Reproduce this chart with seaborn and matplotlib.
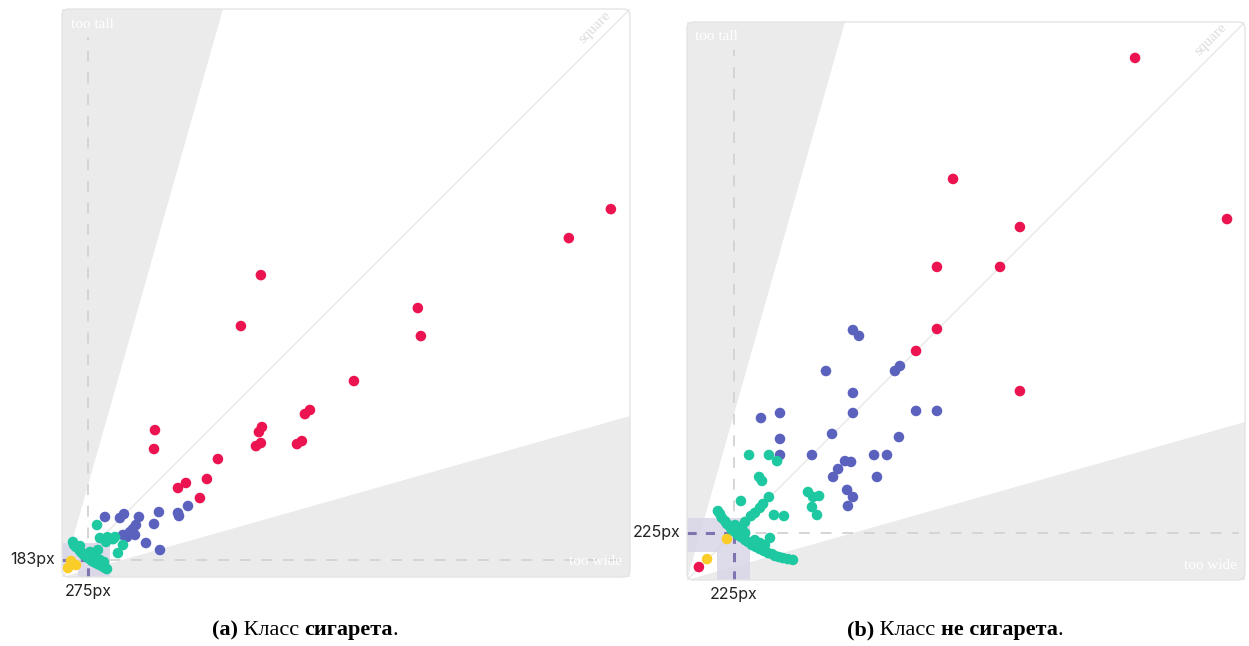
import numpy as np
import pandas as pd
import matplotlib
matplotlib.use("Agg")
import matplotlib.pyplot as plt
import seaborn as sns
from matplotlib.patches import Polygon, Rectangle, FancyBboxPatch

sns.set_theme(style="white")
plt.rcParams['font.family'] = ['Inter', 'DejaVu Sans']

# ---------------- data (image width / height in px) ----------------
# panel (a): class "сигарета"
a_large_w = [5798, 5354, 2101, 1890, 3759, 3791, 3084, 2619, 2566, 2112, 2080, 2101, 2049,
             2534, 2482, 982, 972, 1647, 1531, 1309, 1225, 1457]
a_large_h = [3886, 3580, 3189, 2651, 2841, 2545, 2070, 1764, 1721, 1584, 1531, 1415, 1383,
             1436, 1404, 1552, 1352, 1246, 1035, 993, 940, 834]
a_medium_w = [454, 612, 655, 813, 1024, 1225, 1236, 1331, 972, 781, 750, 644, 686, 771, 887, 1035, 718]
a_medium_h = [634, 623, 665, 634, 686, 676, 644, 750, 560, 549, 507, 444, 422, 444, 359, 285, 475]
a_small_w = [370, 401, 465, 560, 644, 591, 380, 480, 540,
             116, 148, 190, 232, 275, 317, 359, 401, 444, 475,
             127, 169, 211, 253, 296, 338, 380, 422, 454, 190, 296, 348, 401, 444]
a_small_h = [549, 412, 370, 422, 338, 253, 285, 420, 400,
             370, 317, 275, 232, 201, 169, 148, 127, 106, 84,
             338, 306, 253, 222, 190, 158, 137, 116, 95, 327, 264, 222, 180, 158]
a_tiny_w = [63, 95, 148]
a_tiny_h = [95, 169, 127]

# panel (b): class "не сигарета"
b_large_w = [2144, 2584, 1273, 1593, 1196, 1498, 1196, 1096, 1593, 57]
b_large_h = [2498, 1727, 1919, 1689, 1498, 1498, 1201, 1096, 904, 62]
b_medium_w = [794, 823, 665, 1019, 995, 794, 794, 1096, 1196, 1014, 354, 445, 694, 445, 445,
              598, 895, 957, 756, 785, 723, 699, 909, 766, 794, 770]
b_medium_h = [1196, 1168, 1000, 1024, 1000, 895, 799, 809, 809, 684, 775, 799, 699, 675, 598,
              598, 598, 598, 569, 565, 531, 493, 493, 431, 397, 354]
b_small_w = [297, 392, 431, 345, 359, 258, 392, 364, 349, 325, 306, 416, 464, 579, 603, 632,
             598, 622, 278, 263, 397, 349,
             148, 167, 191, 215, 244, 278, 311, 349, 388, 421, 459, 507,
             158, 182, 206, 230, 258, 292, 330, 368, 407, 440, 483,
             230, 278, 325, 373, 254]
b_small_h = [598, 598, 569, 493, 474, 378, 397, 364, 345, 321, 306, 311, 306, 421, 397, 402,
             349, 311, 278, 254, 201, 177,
             330, 297, 268, 239, 215, 191, 167, 148, 129, 115, 105, 96,
             316, 282, 254, 230, 206, 182, 158, 139, 124, 110, 100,
             263, 225, 191, 167, 249]
b_tiny_w = [96, 191]
b_tiny_h = [100, 196]

size_order = ["large", "medium", "small", "tiny"]
palette = {"large": "#EB1450", "medium": "#5A62BE", "small": "#1EC8A0", "tiny": "#FACD28"}


def frame(parts):
    rows = []
    for cat, (w, h) in parts.items():
        for wi, hi in zip(w, h):
            rows.append({"width": wi, "height": hi, "size": cat})
    return pd.DataFrame(rows)


df_a = frame({"large": (a_large_w, a_large_h), "medium": (a_medium_w, a_medium_h),
              "small": (a_small_w, a_small_h), "tiny": (a_tiny_w, a_tiny_h)})
df_b = frame({"large": (b_large_w, b_large_h), "medium": (b_medium_w, b_medium_h),
              "small": (b_small_w, b_small_h), "tiny": (b_tiny_w, b_tiny_h)})

a_max, b_max = 6000, 2670
a_med_w, a_med_h = 275, 183
b_med_w, b_med_h = 225, 225
# lavender "typical size" zones: (w1, w2, h1, h2)
a_zone = (170, 507, 110, 360)
b_zone = (144, 302, 134, 297)
ratio = 0.283

fig = plt.figure(figsize=(12.49, 6.46), dpi=100)
ax_a = fig.add_axes([62 / 1249, 1 - 577 / 646, 568 / 1249, 568 / 646])
ax_b = fig.add_axes([687 / 1249, 1 - 580 / 646, 558 / 1249, 558 / 646])

GRAY = "#EBEBEB"
LAV = "#D9D5E8"
PURPLE = "#7E74B0"
DASH = "#D2D2D2"


def panel(ax, df, vmax, mw, mh, zone):
    ax.set_xlim(0, vmax)
    ax.set_ylim(0, vmax)
    ax.set_facecolor("white")
    # wedges
    ax.add_patch(Polygon([[0, 0], [0, vmax], [ratio * vmax, vmax]], closed=True,
                         facecolor=GRAY, edgecolor="none", zorder=0))
    ax.add_patch(Polygon([[0, 0], [vmax, 0], [vmax, ratio * vmax]], closed=True,
                         facecolor=GRAY, edgecolor="none", zorder=0))
    # square diagonal
    ax.plot([0, vmax], [0, vmax], color="#E8E8E8", lw=1.0, zorder=1)
    # lavender zones
    w1, w2, h1, h2 = zone
    ax.add_patch(Rectangle((0, h1), w2, h2 - h1, facecolor=LAV, alpha=0.85,
                           edgecolor="none", zorder=1))
    ax.add_patch(Rectangle((w1, 0), w2 - w1, h1, facecolor=LAV, alpha=0.85,
                           edgecolor="none", zorder=1))
    # dashed median lines
    ax.plot([mw, mw], [mh, vmax * 0.95], color=DASH, lw=1.3, ls=(0, (6, 6)), zorder=1)
    ax.plot([mw, vmax * 0.99], [mh, mh], color=DASH, lw=1.3, ls=(0, (6, 6)), zorder=1)
    ax.plot([mw, mw], [0, mh], color=PURPLE, lw=2.2, ls=(0, (3, 3)), zorder=1.5)
    ax.plot([0, mw], [mh, mh], color=PURPLE, lw=2.2, ls=(0, (3, 3)), zorder=1.5)
    sns.scatterplot(data=df, x="width", y="height", hue="size", hue_order=size_order,
                    palette=palette, s=58, linewidth=0, alpha=1.0, ax=ax,
                    legend=False, zorder=3)
    ax.set_xlabel("")
    ax.set_ylabel("")
    ax.set_xticks([])
    ax.set_yticks([])
    for s in ax.spines.values():
        s.set_visible(False)
    ax.add_patch(FancyBboxPatch((0, 0), 1, 1, boxstyle="round,pad=0.0,rounding_size=0.012",
                                transform=ax.transAxes, facecolor="none",
                                edgecolor="#E4E4E4", lw=1.0, zorder=5, clip_on=False))
    # annotations
    ax.text(0.015, 0.985, "too tall", transform=ax.transAxes, ha="left", va="top",
            color="white", fontsize=11, family="Liberation Serif", zorder=4)
    ax.text(0.985, 0.015, "too wide", transform=ax.transAxes, ha="right", va="bottom",
            color="white", fontsize=11, family="Liberation Serif", zorder=4)
    ax.text(0.938, 0.968, "square", transform=ax.transAxes, ha="center", va="center",
            rotation=45, color="#DCDCDC", fontsize=11, family="Liberation Serif", zorder=4)
    ax.text(-0.012, mh, f"{mh}px", transform=ax.get_yaxis_transform(), ha="right",
            va="center", fontsize=11.5, color="#222222")
    ax.text(mw, -0.012, f"{mw}px", transform=ax.get_xaxis_transform(), ha="center",
            va="top", fontsize=11.5, color="#222222")


panel(ax_a, df_a, a_max, a_med_w, a_med_h, a_zone)
panel(ax_b, df_b, b_max, b_med_w, b_med_h, b_zone)


def caption(pieces, cx, y):
    fig.canvas.draw()
    r = fig.canvas.get_renderer()
    texts = []
    total = 0
    for s, bold in pieces:
        t = fig.text(0, y, s, fontsize=16, family="Liberation Serif",
                     weight="bold" if bold else "normal", va="baseline", ha="left",
                     color="black")
        w = t.get_window_extent(renderer=r).width
        texts.append((t, w))
        total += w
    x = cx * 1249 - total / 2
    for t, w in texts:
        t.set_x(x / 1249)
        x += w


caption([("(a)", True), (" Класс ", False), ("сигарета", True), (".", False)],
        305 / 1249, 1 - 635 / 646)
caption([("(b)", True), (" Класс ", False), ("не сигарета", True), (".", False)],
        955 / 1249, 1 - 635 / 646)

fig.savefig("out.png", dpi=100, facecolor="white")
